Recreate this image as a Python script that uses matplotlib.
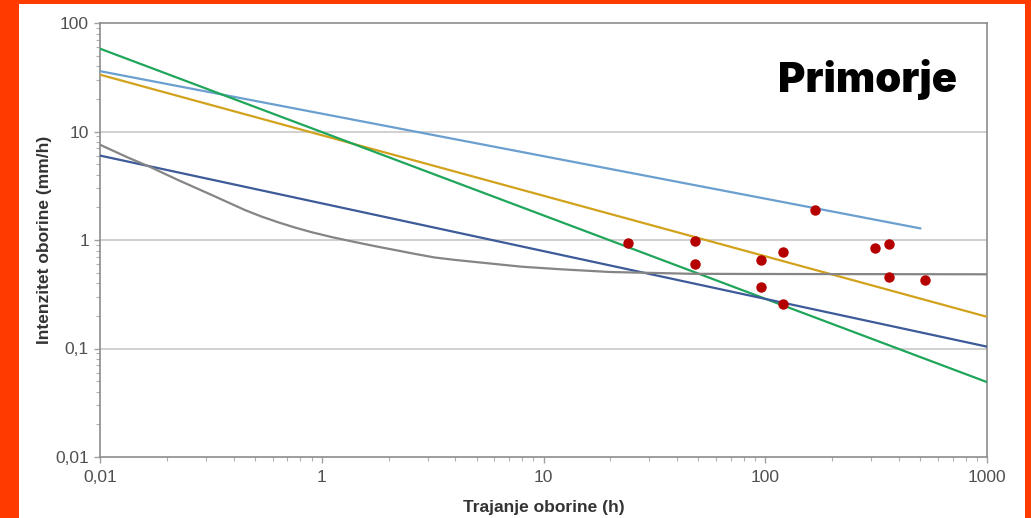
import numpy as np
import matplotlib.pyplot as plt
from matplotlib.patches import Rectangle
from matplotlib.ticker import FixedLocator, FixedFormatter, LogLocator, NullFormatter

# 数据
# 直线：两端点 (x: 持续时间 h, y: 强度 mm/h)
blue_light_x = [0.1, 500]
blue_light_y = [36.0, 1.28]
gold_x = [0.1, 1000]
gold_y = [33.4, 0.196]
green_x = [0.1, 1000]
green_y = [58.0, 0.049]
blue_dark_x = [0.1, 1000]
blue_dark_y = [6.0, 0.104]

# 灰色曲线：逐点读取
gray_x = [0.1, 0.134, 0.168, 0.225, 0.319, 0.45, 0.534, 0.636, 0.756, 0.9, 1.12,
          1.41, 1.73, 2.13, 2.62, 3.23, 4, 5, 6.5, 8, 12, 20, 47, 100, 1000]
gray_y = [7.55, 5.74, 4.72, 3.57, 2.60, 1.89, 1.647, 1.456, 1.304, 1.18, 1.059,
          0.958, 0.879, 0.81, 0.746, 0.69, 0.655, 0.625, 0.592, 0.567, 0.537,
          0.507, 0.488, 0.486, 0.483]

# 观测点
obs_x = [24, 48, 48, 96, 96, 120, 120, 168, 312, 360, 360, 528]
obs_y = [0.93, 0.97, 0.60, 0.65, 0.37, 0.77, 0.255, 1.89, 0.84, 0.92, 0.46, 0.43]

# 坐标轴刻度与标签
x_ticks = [0.1, 1, 10, 100, 1000]
x_labels = ["0,01", "1", "10", "100", "1000"]
y_ticks = [0.01, 0.1, 1, 10, 100]
y_labels = ["0,01", "0,1", "1", "10", "100"]

W, H = 1031, 518
fig = plt.figure(figsize=(W / 100, H / 100), dpi=100)
fig.patch.set_facecolor("#FF3B00")
# 白色底板（左、上、右留出橙色边框）
fig.patches.append(Rectangle((19 / W, 0), (1025 - 19) / W, (H - 4) / H,
                             transform=fig.transFigure, facecolor="white",
                             edgecolor="none", zorder=-5))

ax = fig.add_axes([100 / W, 1 - 457 / H, (987 - 100) / W, (457 - 23) / H])
ax.set_zorder(2)
ax.set_facecolor("white")
ax.set_xscale("log")
ax.set_yscale("log")
ax.set_xlim(0.1, 1000)
ax.set_ylim(0.01, 100)

lw = 1.6
ax.plot(blue_light_x, blue_light_y, color="#6A9FD0", lw=lw, zorder=3)
ax.plot(gold_x, gold_y, color="#D2A21C", lw=lw, zorder=3)
ax.plot(green_x, green_y, color="#1FA65A", lw=lw, zorder=3)
ax.plot(blue_dark_x, blue_dark_y, color="#3D5A99", lw=lw, zorder=3)
ax.plot(gray_x, gray_y, color="#858585", lw=lw, zorder=3,
        solid_joinstyle="round")
ax.plot(obs_x, obs_y, linestyle="none", marker="o", ms=6.5,
        color="#B50000", markeredgecolor="#B50000", zorder=4)

# 网格线（仅水平主刻度）
for yv in y_ticks[1:-1]:
    ax.axhline(yv, color="#C4C4C4", lw=1.1, zorder=1)

for sp in ax.spines.values():
    sp.set_color("#8C8C8C")
    sp.set_linewidth(1.2)

ax.xaxis.set_major_locator(FixedLocator(x_ticks))
ax.xaxis.set_major_formatter(FixedFormatter(x_labels))
ax.yaxis.set_major_locator(FixedLocator(y_ticks))
ax.yaxis.set_major_formatter(FixedFormatter(y_labels))
ax.xaxis.set_minor_locator(LogLocator(base=10, subs=np.arange(2, 10)))
ax.yaxis.set_minor_locator(LogLocator(base=10, subs=np.arange(2, 10)))
ax.xaxis.set_minor_formatter(NullFormatter())
ax.yaxis.set_minor_formatter(NullFormatter())

ax.tick_params(axis="both", which="major", direction="out", length=4,
               width=1, color="#A0A0A0", labelsize=12.5, labelcolor="#505050")
ax.tick_params(axis="both", which="minor", direction="out", length=3,
               width=0.8, color="#B0B0B0")
ax.tick_params(axis="x", which="major", pad=5)
ax.tick_params(axis="y", which="major", pad=4)
for lab in ax.get_xticklabels() + ax.get_yticklabels():
    lab.set_family(["Liberation Sans", "DejaVu Sans"])

ax.set_xlabel("Trajanje oborine (h)", fontsize=12.5, fontweight="bold",
              color="#333333", family=["Liberation Sans", "DejaVu Sans"], labelpad=11)
ax.set_ylabel("Intenzitet oborine (mm/h)", fontsize=12.5, fontweight="bold",
              color="#333333", family=["Liberation Sans", "DejaVu Sans"], labelpad=2)

fig.text(867 / W, 1 - 92 / H, "Primorje", ha="center", va="baseline",
         fontsize=30, fontweight="black", color="black",
         family=["Inter", "Roboto", "DejaVu Sans"], zorder=5)

fig.savefig("out.png", dpi=100, facecolor=fig.get_facecolor())
